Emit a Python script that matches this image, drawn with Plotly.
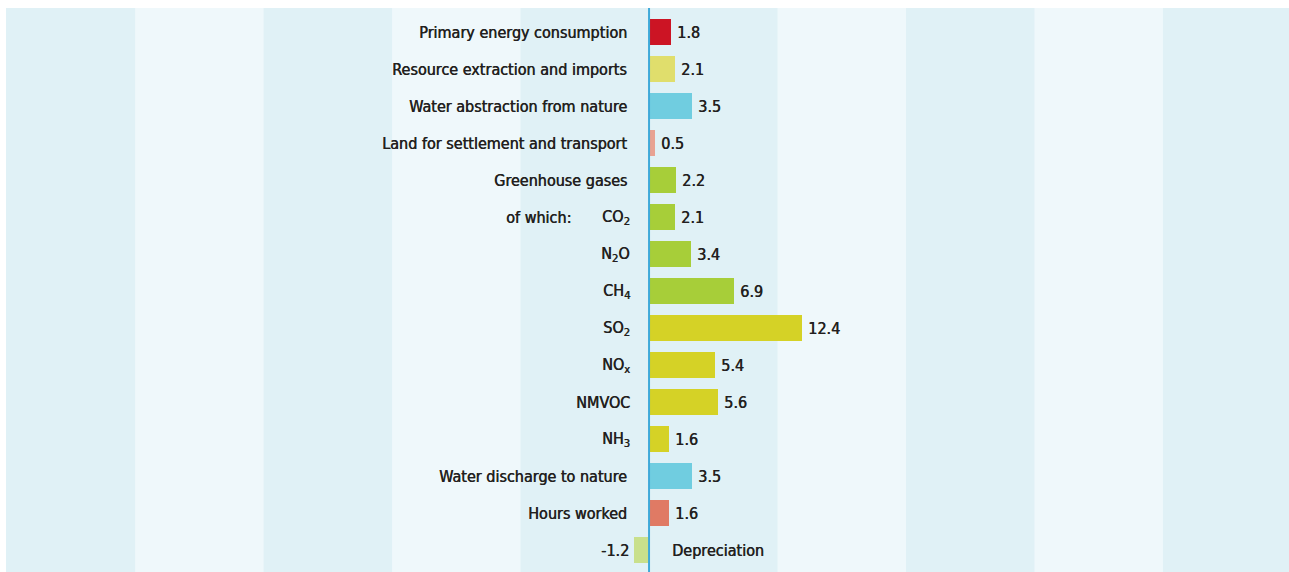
import plotly.graph_objects as go

# Indicator labels (display form) and their change values
categories = [
    "Primary energy consumption",
    "Resource extraction and imports",
    "Water abstraction from nature",
    "Land for settlement and transport",
    "Greenhouse gases",
    "CO<sub>2</sub>",
    "N<sub>2</sub>O",
    "CH<sub>4</sub>",
    "SO<sub>2</sub>",
    "NO<sub>x</sub>",
    "NMVOC",
    "NH<sub>3</sub>",
    "Water discharge to nature",
    "Hours worked",
    "Depreciation",
]
values = [1.8, 2.1, 3.5, 0.5, 2.2, 2.1, 3.4, 6.9, 12.4, 5.4, 5.6, 1.6, 3.5, 1.6, -1.2]
value_labels = ["1.8", "2.1", "3.5", "0.5", "2.2", "2.1", "3.4", "6.9", "12.4",
                "5.4", "5.6", "1.6", "3.5", "1.6", "-1.2"]
sub_items = {"CO<sub>2</sub>", "N<sub>2</sub>O", "CH<sub>4</sub>", "SO<sub>2</sub>",
             "NO<sub>x</sub>", "NMVOC", "NH<sub>3</sub>"}

bar_colors = [
    "#cc1424", "#e0de6c", "#70cde0", "#e8a292", "#a7ce39", "#a7ce39", "#a7ce39",
    "#a7ce39", "#d5d226", "#d5d226", "#d5d226", "#d5d226", "#70cde0", "#e07a64",
    "#c9e08c",
]

FONT_FAMILY = "DejaVu Sans Condensed, Liberation Sans Narrow, sans-serif"
TEXT = "#231f20"
DARK = "#e0f1f6"
LIGHT = "#eff8fb"
label_font = dict(family=FONT_FAMILY, size=16, color=TEXT,
                  shadow="0.5px 0px 0px #231f20")

fig = go.Figure()
fig.add_trace(go.Bar(
    x=values, y=categories, orientation="h",
    marker=dict(color=bar_colors, line=dict(width=0)),
    width=0.72, hoverinfo="skip",
))

# alternating background bands
band = 10.45
shapes = []
for lo in (-4 * band, -2 * band, band, 3 * band):
    shapes.append(dict(type="rect", xref="x", yref="paper", x0=lo, x1=lo + band,
                       y0=0, y1=1, fillcolor=LIGHT, line=dict(width=0), layer="below"))
# zero line
shapes.append(dict(type="line", xref="x", yref="paper", x0=0, x1=0, y0=0, y1=1,
                   line=dict(color="#3fa9d9", width=2), layer="above"))

annotations = []
for cat, v, lab in zip(categories, values, value_labels):
    if v >= 0:
        annotations.append(dict(x=0, y=cat, text=cat, xanchor="right", showarrow=False,
                                xshift=-17 if cat in sub_items else -20, font=label_font))
        annotations.append(dict(x=v, y=cat, text=lab, xanchor="left", showarrow=False,
                                xshift=4, font=label_font))
    else:
        annotations.append(dict(x=0, y=cat, text=cat, xanchor="left", showarrow=False,
                                xshift=21, font=label_font))
        annotations.append(dict(x=v, y=cat, text=lab, xanchor="right", showarrow=False,
                                xshift=-3, font=label_font))
annotations.append(dict(x=0, y="CO<sub>2</sub>", text="of which:", xanchor="right",
                        showarrow=False, xshift=-76, font=label_font))

fig.update_layout(
    width=1289, height=572,
    margin=dict(l=6, r=0, t=8, b=0),
    paper_bgcolor="white", plot_bgcolor=DARK,
    showlegend=False,
    xaxis=dict(range=[-52.3, 52.05], showgrid=False, zeroline=False,
               showticklabels=False, ticks="", fixedrange=True),
    yaxis=dict(type="category", range=[14.59, -0.65], showgrid=False, zeroline=False,
               showticklabels=False, ticks="", fixedrange=True),
    shapes=shapes, annotations=annotations,
    bargap=0,
)

fig.write_html("out.html", config={"displayModeBar": False})
